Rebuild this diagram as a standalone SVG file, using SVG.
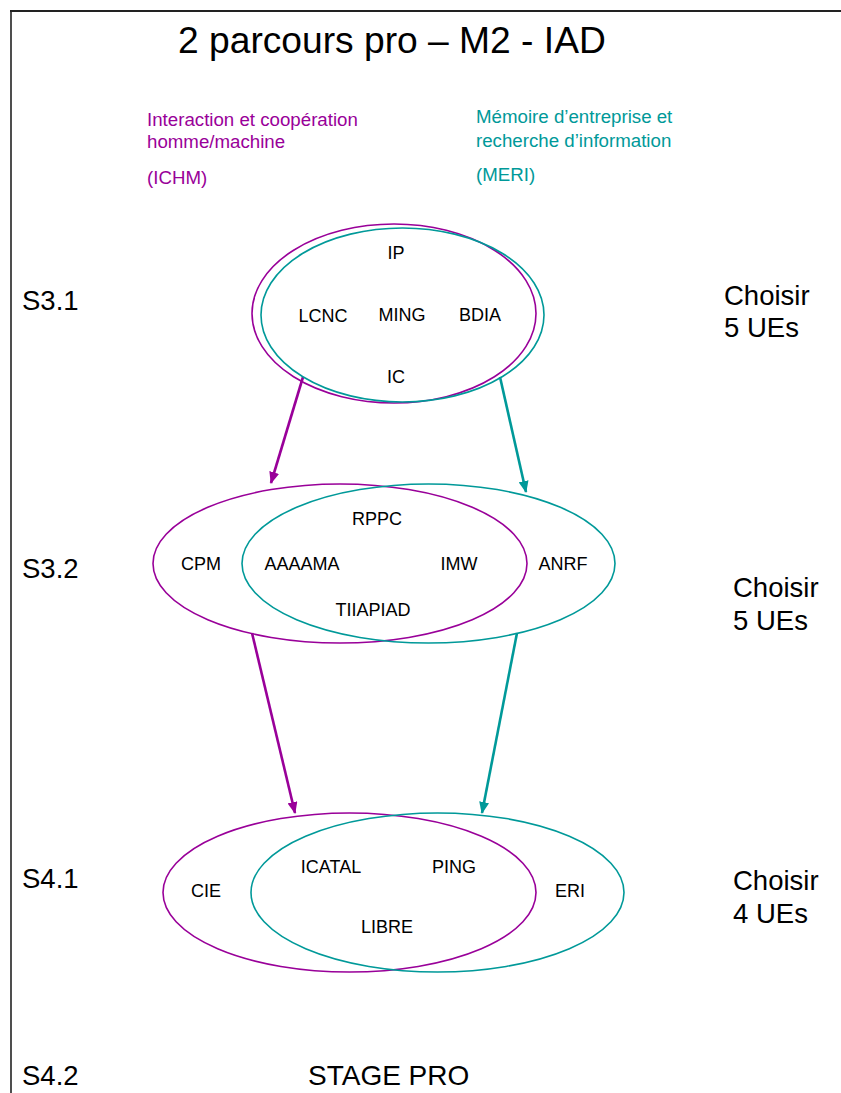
<svg xmlns="http://www.w3.org/2000/svg" width="841" height="1093" viewBox="0 0 841 1093">
<style>
text{font-family:"Liberation Sans",Arial,sans-serif;fill:#000}
.lbl{font-size:18px;text-anchor:middle}
.big{font-size:27.5px}
.sub{font-size:18.7px}
.p{fill:#990099}
.t{fill:#009999}
.ep{fill:none;stroke:#990099;stroke-width:1.6}
.et{fill:none;stroke:#009999;stroke-width:1.6}
.ap{stroke:#990099;stroke-width:2.6;fill:none}
.at{stroke:#009999;stroke-width:2.6;fill:none}
</style>
<defs>
<marker id="mp" viewBox="0 0 12 10" refX="11" refY="5" markerWidth="12" markerHeight="10" markerUnits="userSpaceOnUse" orient="auto"><path d="M0,0 L12,5 L0,10 z" fill="#990099"/></marker>
<marker id="mt" viewBox="0 0 12 10" refX="11" refY="5" markerWidth="12" markerHeight="10" markerUnits="userSpaceOnUse" orient="auto"><path d="M0,0 L12,5 L0,10 z" fill="#009999"/></marker>
</defs>
<rect width="841" height="1093" fill="#fff"/>
<g id="frame" stroke="#222" fill="none">
<line x1="10" y1="11" x2="841" y2="11" stroke-width="2.2"/>
<line x1="11" y1="10" x2="11" y2="1093" stroke-width="1.6"/>
</g>
<g id="title">
<text x="178" y="53" font-size="37.2">2 parcours pro – M2 - IAD</text>
</g>
<g id="ichm">
<text class="sub p" x="147" y="126">Interaction et coopération</text>
<text class="sub p" x="147" y="148">homme/machine</text>
<text class="sub p" x="147" y="184">(ICHM)</text>
</g>
<g id="meri">
<text class="sub t" x="476" y="123">Mémoire d’entreprise et</text>
<text class="sub t" x="476" y="147">recherche d’information</text>
<text class="sub t" x="476" y="181">(MERI)</text>
</g>
<g id="semesters">
<text class="big" x="22" y="310">S3.1</text>
<text class="big" x="22" y="578">S3.2</text>
<text class="big" x="22" y="888">S4.1</text>
<text class="big" x="22" y="1085">S4.2</text>
</g>
<g id="choix">
<text class="big" x="724" y="305">Choisir</text>
<text class="big" x="724" y="337">5 UEs</text>
<text class="big" x="733" y="597">Choisir</text>
<text class="big" x="733" y="630">5 UEs</text>
<text class="big" x="733" y="890">Choisir</text>
<text class="big" x="733" y="923">4 UEs</text>
</g>
<g id="connectors">
<line class="ap" x1="303" y1="377" x2="271" y2="483" marker-end="url(#mp)"/>
<line class="at" x1="500" y1="377" x2="526" y2="492" marker-end="url(#mt)"/>
<line class="ap" x1="252" y1="633" x2="295" y2="813" marker-end="url(#mp)"/>
<line class="at" x1="517" y1="633" x2="482" y2="813" marker-end="url(#mt)"/>
</g>
<g id="s31">
<ellipse class="ep" cx="394" cy="313.5" rx="142" ry="89.5"/>
<ellipse class="et" cx="402.5" cy="315" rx="141.5" ry="87"/>
<text class="lbl" x="396" y="259">IP</text>
<text class="lbl" x="323" y="322">LCNC</text>
<text class="lbl" x="402" y="321">MING</text>
<text class="lbl" x="480" y="321">BDIA</text>
<text class="lbl" x="396" y="383">IC</text>
</g>
<g id="s32">
<ellipse class="ep" cx="340" cy="563.5" rx="187" ry="79.5"/>
<ellipse class="et" cx="428.5" cy="563.5" rx="186.5" ry="79.5"/>
<text class="lbl" x="377" y="525">RPPC</text>
<text class="lbl" x="201" y="570">CPM</text>
<text class="lbl" x="302" y="570">AAAAMA</text>
<text class="lbl" x="459" y="570">IMW</text>
<text class="lbl" x="563" y="570">ANRF</text>
<text class="lbl" x="373" y="616">TIIAPIAD</text>
</g>
<g id="s41">
<ellipse class="ep" cx="349.5" cy="892.5" rx="186.5" ry="79.5"/>
<ellipse class="et" cx="437.5" cy="892.5" rx="186.5" ry="79.5"/>
<text class="lbl" x="331" y="873">ICATAL</text>
<text class="lbl" x="454" y="873">PING</text>
<text class="lbl" x="206" y="897">CIE</text>
<text class="lbl" x="570" y="897">ERI</text>
<text class="lbl" x="387" y="933">LIBRE</text>
</g>
<g id="s42">
<text x="308" y="1085" font-size="28">STAGE PRO</text>
</g>
</svg>
